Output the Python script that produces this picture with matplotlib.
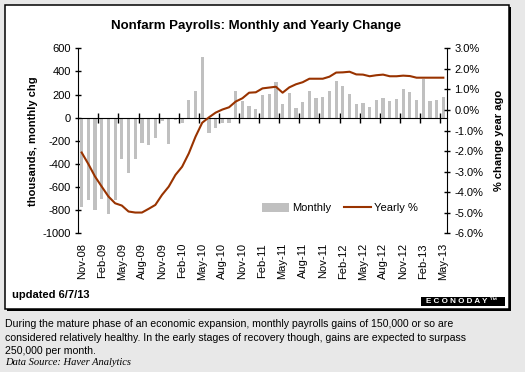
import numpy as np
import matplotlib
matplotlib.use('Agg')
import matplotlib.pyplot as plt
from matplotlib.patches import Rectangle, Patch
from matplotlib.lines import Line2D

plt.rcParams['font.family'] = ['Liberation Sans', 'DejaVu Sans']
plt.rcParams['axes.unicode_minus'] = False

# monthly payroll change, thousands (Nov-08 .. May-13)
monthly = [-775, -715, -800, -703, -830, -715, -357, -478, -357, -219,
           -236, -176, -32, -228, -20, -46, 150, 228, 524, -133,
           -89, -46, -46, 228, 141, 98, 72, 196, 205, 308,
           118, 213, 84, 135, 230, 170, 179, 230, 317, 274,
           205, 118, 127, 92, 153, 170, 144, 161, 248, 222,
           153, 334, 144, 153, 179]

# yearly % change
yearly = [-2.07, -2.63, -3.24, -3.73, -4.21, -4.54, -4.65, -4.94, -4.99, -4.99,
          -4.81, -4.62, -4.13, -3.73, -3.16, -2.76, -2.11, -1.30, -0.62, -0.36,
          -0.13, 0.02, 0.13, 0.41, 0.57, 0.84, 0.86, 1.05, 1.09, 1.13,
          0.84, 1.10, 1.25, 1.35, 1.52, 1.52, 1.52, 1.62, 1.82, 1.83,
          1.86, 1.73, 1.72, 1.64, 1.69, 1.72, 1.64, 1.64, 1.67, 1.65,
          1.57, 1.57, 1.57, 1.57, 1.57]

tick_labels = ['Nov-08', 'Feb-09', 'May-09', 'Aug-09', 'Nov-09', 'Feb-10', 'May-10',
               'Aug-10', 'Nov-10', 'Feb-11', 'May-11', 'Aug-11', 'Nov-11', 'Feb-12',
               'May-12', 'Aug-12', 'Nov-12', 'Feb-13', 'May-13']

W, H = 525, 372
fig = plt.figure(figsize=(W / 100, H / 100), dpi=100)
fig.patch.set_facecolor('#e8e8e8')

def fx(px):
    return px / W

def fy(py):
    return 1 - py / H

# white chart box with heavier right/bottom edge
fig.patches.append(Rectangle((fx(7), fy(311)), fx(504), 304 / H, transform=fig.transFigure,
                             facecolor='black', edgecolor='none', zorder=-3))
fig.patches.append(Rectangle((fx(5), fy(309)), fx(504), 304 / H, transform=fig.transFigure,
                             facecolor='white', edgecolor='black', linewidth=1.1, zorder=-2))

ax = fig.add_axes([fx(78.3), fy(233.3), fx(446.7 - 78.3), (233.3 - 48.3) / H])
ax.patch.set_visible(False)
x = np.arange(len(monthly))
ax.bar(x, monthly, width=0.48, color='#c0c0c0', zorder=2)
ax.set_xlim(-0.5, len(monthly) - 0.5)
ax.set_ylim(-1000, 600)
ax.set_yticks(np.arange(-1000, 601, 200))
ax.spines['top'].set_visible(False)
ax.spines['right'].set_visible(False)
ax.spines['bottom'].set_position(('data', 0))
ax.set_xticks(np.arange(2.5, len(monthly), 3))
ax.tick_params(axis='x', direction='inout', length=7, width=1, labelbottom=False)
ax.tick_params(axis='y', direction='inout', length=5, width=1, labelsize=8, pad=3)
ax.set_ylabel('thousands, monthly chg', fontsize=8, fontweight='bold', labelpad=3)

sec = ax.secondary_xaxis('bottom')
sec.set_xticks(x[::3], tick_labels, rotation=90, fontsize=8)
sec.tick_params(length=0, pad=7)
sec.spines['bottom'].set_visible(False)

ax2 = ax.twinx()
ax2.plot(x, yearly, color='#993300', linewidth=1.5, zorder=3)
ax2.set_ylim(-6, 3)
ax2.set_yticks(np.arange(-6, 3.1, 1))
ax2.set_yticklabels(['%.1f%%' % v for v in np.arange(-6, 3.1, 1)])
for s in ['top', 'bottom', 'left']:
    ax2.spines[s].set_visible(False)
ax2.tick_params(axis='y', direction='inout', length=5, width=1, labelsize=8, pad=3)
ax2.set_ylabel('% change year ago', fontsize=8, fontweight='bold', rotation=90, labelpad=8)

handles = [Patch(facecolor='#c0c0c0', edgecolor='none'),
           Line2D([], [], color='#993300', linewidth=1.5)]
fig.legend(handles, ['Monthly', 'Yearly %'], loc='center', ncol=2, frameon=False,
           fontsize=8, bbox_to_anchor=(fx(340), fy(208)), handlelength=2.4,
           handleheight=0.9, handletextpad=0.3, columnspacing=1.2)

fig.text(fx(256.5), fy(26.5), 'Nonfarm Payrolls: Monthly and Yearly Change',
         ha='center', va='center', fontsize=9.5, fontweight='bold')
fig.text(fx(12), fy(295), 'updated 6/7/13', ha='left', va='center', fontsize=8, fontweight='bold')

# logo
fig.patches.append(Rectangle((fx(420.7), fy(305.5)), fx(84.5), 9 / H, transform=fig.transFigure,
                             facecolor='black', edgecolor='none', zorder=1))
fig.text(fx(462), fy(301.2), 'E C O N O D A Y \u2122', ha='center', va='center',
         fontsize=5.8, fontweight='bold', color='white', zorder=2)

notes = ['During the mature phase of an economic expansion, monthly payrolls gains of 150,000 or so are',
         'considered relatively healthy. In the early stages of recovery though, gains are expected to surpass',
         '250,000 per month.']
for i, line in enumerate(notes):
    fig.text(fx(5), fy(324 + i * 13.6), line, ha='left', va='center', fontsize=7.6)
fig.text(fx(5), fy(362.5), 'Data Source: Haver Analytics', ha='left', va='center',
         fontsize=7.6, style='italic', family='Liberation Serif')

fig.savefig('out.png', dpi=100, facecolor=fig.get_facecolor())
